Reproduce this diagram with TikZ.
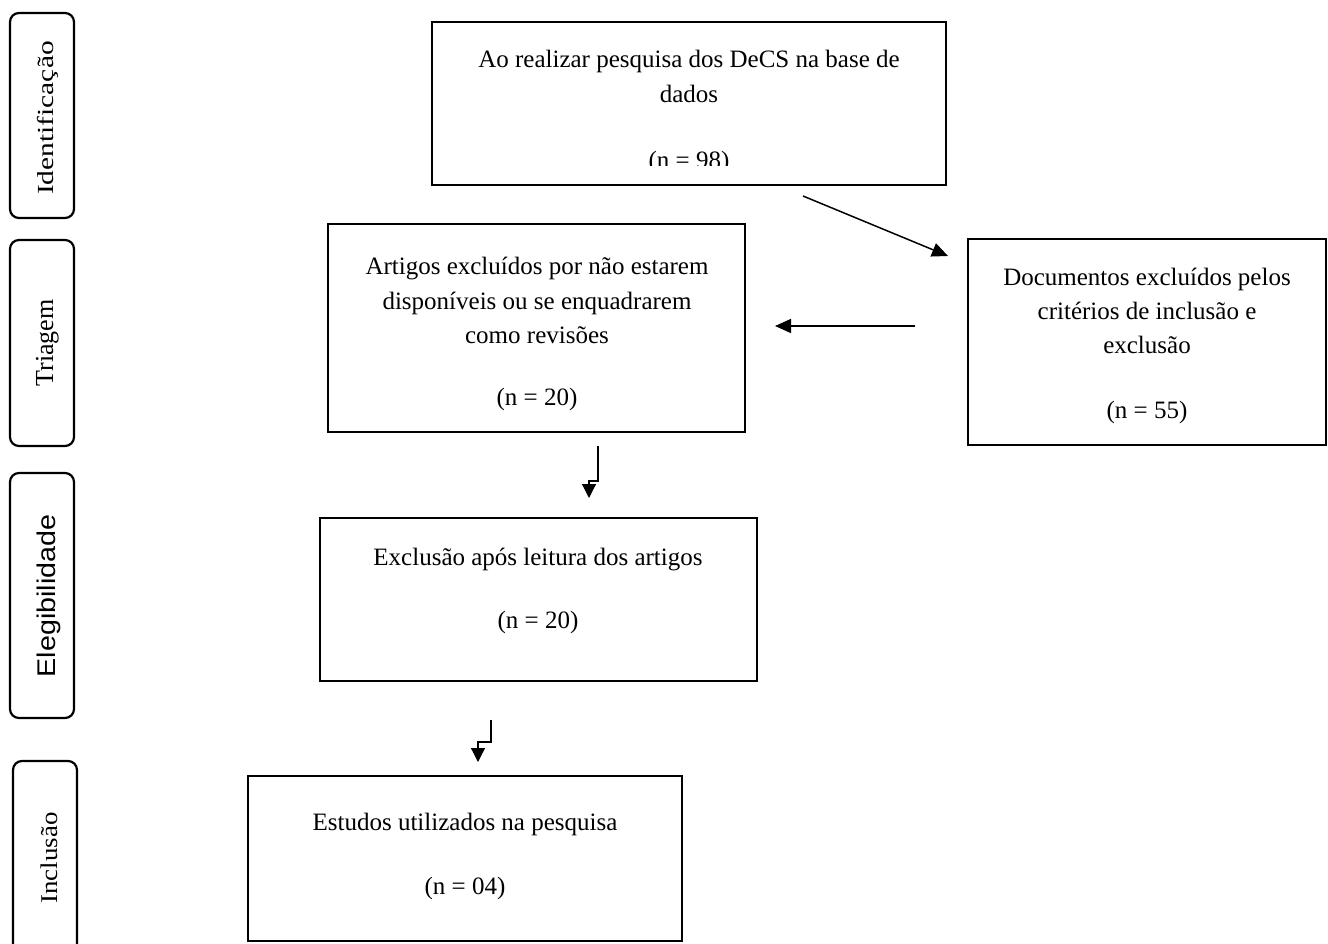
\documentclass[tikz,border=0pt]{standalone}
\usepackage{fontspec}
\setmainfont{Liberation Serif}
\newfontfamily\arialf{Liberation Sans}
\usetikzlibrary{arrows.meta}
\begin{document}
\begin{tikzpicture}[x=1pt,y=-1pt,
  box/.style={draw, line width=2.8pt, inner sep=0pt},
  side/.style={draw, line width=2.2pt, rounded corners=9pt, inner sep=0pt},
  txt/.style={anchor=base, inner sep=0pt, font=\fontsize{25}{30}\selectfont},
  lbl/.style={rotate=90, anchor=base, inner sep=0pt},
  arr/.style={line width=1.5pt, -{Triangle[length=16pt,width=14pt]}},
  elb/.style={line width=1.2pt, -{Triangle[length=14pt,width=14pt]}}
]
\useasboundingbox (0,0) rectangle (1328,944);

% side labels
\node[side, minimum width=64pt, minimum height=205pt] (sid) at (42,115.5) {};
\node[lbl] (lid) at (53,118) {\fontsize{23}{23}\selectfont\scalebox{1.28}[1]{Identificação}};
\node[side, minimum width=64pt, minimum height=206pt] (str) at (42,343) {};
\node[lbl] (ltr) at (53,343) {\fontsize{26}{26}\selectfont Triagem};
\node[side, minimum width=64pt, minimum height=245pt] (sel) at (42,595.5) {};
\node[lbl] (lel) at (55,596) {\arialf\fontsize{25.6}{26}\selectfont\scalebox{1.12}[1]{Elegibilidade}};
\begin{scope}
\clip (0,0) rectangle (1328,944);
\node[side, minimum width=64pt, minimum height=219pt] (sin) at (45,870.5) {};
\end{scope}
\node[lbl] (lin) at (57,858) {\fontsize{24}{24}\selectfont\scalebox{1.12}[1]{Inclusão}};

% main boxes
\node[box, minimum width=514pt, minimum height=163pt] (top) at (689,103.5) {};
\begin{scope}
\clip (432,22) rectangle (946,166);
\node[txt] (t1) at (689,68) {Ao realizar pesquisa dos DeCS na base de};
\node[txt] (t2) at (689,103) {dados};
\node[txt] (t3) at (689,169) {(n = 98)};
\end{scope}

\node[box, minimum width=417pt, minimum height=208pt] (tri) at (536.5,328) {};
\node[txt] (r1) at (537,274) {Artigos excluídos por não estarem};
\node[txt] (r2) at (537,309) {disponíveis ou se enquadrarem};
\node[txt] (r3) at (537,343) {como revisões};
\node[txt] (r4) at (537,405) {(n = 20)};

\node[box, minimum width=358pt, minimum height=206pt] (doc) at (1147,342) {};
\node[txt] (d1t) at (1147,285) {Documentos excluídos pelos};
\node[txt] (d2t) at (1147,319) {critérios de inclusão e};
\node[txt] (d3t) at (1147,353) {exclusão};
\node[txt] (d4t) at (1147,418) {(n = 55)};

\node[box, minimum width=437pt, minimum height=163pt] (ele) at (538.5,599.5) {};
\node[txt] (e1t) at (538,565) {Exclusão após leitura dos artigos};
\node[txt] (e2t) at (538,628) {(n = 20)};

\node[box, minimum width=434pt, minimum height=165pt] (inc) at (465,858.5) {};
\node[txt] (i1t) at (465,830) {Estudos utilizados na pesquisa};
\node[txt] (i2t) at (465,894) {(n = 04)};

% connectors
\coordinate (d1) at (803,196);
\coordinate (d2) at (948,256);
\draw[arr] (d1) -- (d2);
\coordinate (h1) at (915,326);
\coordinate (h2) at (775,326);
\draw[arr] (h1) -- (h2);
\coordinate (e1) at (598,446);
\coordinate (e2) at (589,498);
\draw[elb] (e1) -- ++(0,35) -| (e2);
\coordinate (f1) at (491,720);
\coordinate (f2) at (478,762);
\draw[elb] (f1) -- ++(0,22) -| (f2);
\end{tikzpicture}
\end{document}
